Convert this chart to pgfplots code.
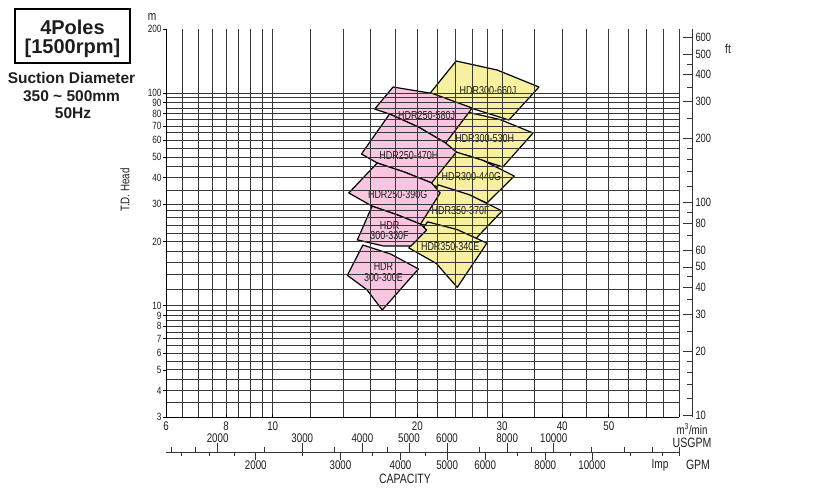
\documentclass[border=0pt]{standalone}
\usepackage{fontspec}
\setmainfont{Liberation Sans}
\newfontfamily\din[FakeStretch=0.78]{Liberation Sans}
\usepackage{pgfplots}
\pgfplotsset{compat=1.18}
\definecolor{pinkfill}{RGB}{248,198,224}
\definecolor{yellowfill}{RGB}{246,240,160}
\definecolor{gridc}{RGB}{55,55,55}
\definecolor{txt}{RGB}{30,30,30}
\newcommand{\dfs}[1]{\din\fontsize{#1bp}{#1bp}\selectfont}
\begin{document}
\begin{tikzpicture}
\path[use as bounding box] (0,0) rectangle (820bp,500bp);
% ---------- main chart ----------
\begin{axis}[
  at={(166bp,83bp)}, anchor=south west,
  width=513bp, height=388bp, scale only axis,
  xmode=log, ymode=log,
  xmin=6, xmax=70, ymin=3, ymax=200,
  axis x line*=bottom, axis y line*=left,
  axis line style={black, line width=0.8bp},
  axis on top,
  /pgf/number format/assume math mode=true,
  xtick={6,8,10,20,30,40,50},
  xticklabels={6,8,10,20,30,40,50},
  minor xtick={6.5,7,7.5,8.5,9,9.5,12,14,16,18,22,24,26,28,35,45,55,60,65},
  extra x ticks={70}, extra x tick labels={},
  extra x tick style={grid=major},
  ytick={3,4,5,6,7,8,9,10,20,30,40,50,60,70,80,90,100},
  yticklabels={3,4,5,6,7,8,9,10,20,30,40,50,60,70,80,90,100},
  minor ytick={3.5,4.5,5.5,6.5,7.5,8.5,9.5,12,14,16,18,22,24,26,28,35,45,55,65,75,85,95},
  extra y ticks={200}, extra y tick labels={200},
  extra y tick style={grid=none},
  grid=both,
  major grid style={gridc, line width=0.7bp},
  minor grid style={gridc, line width=0.7bp},
  tick align=inside,
  major tick length=3bp, minor tick length=0bp,
  ytick style={xshift=-3bp},
  tick style={black, line width=0.6bp},
  xticklabel style={font=\dfs{12.5}, text=txt, yshift=-1bp},
  yticklabel style={font=\dfs{10.5}, text=txt, xshift=-1bp, inner ysep=0pt},
]
% ----- yellow regions -----
\addplot[fill=yellowfill, draw=black, line width=1.2bp, line join=round]
  coordinates {(24.07,141.4) (29.3,128.3) (35.8,106.7) (31.0,74.7) (25.4,86.0) (20.7,92.7)} --cycle;
\addplot[fill=yellowfill, draw=black, line width=1.2bp, line join=round]
  coordinates {(25.36,81.4) (29.7,75.1) (34.8,64.9) (30.1,44.9) (25.4,50.9) (21.4,54.0)} --cycle;
\addplot[fill=yellowfill, draw=black, line width=1.2bp, line join=round]
  coordinates {(23.7,53.4) (27.4,48.2) (31.8,40.7) (27.9,30.4) (24.1,34.8) (20.8,37.4)} --cycle;
\addplot[fill=yellowfill, draw=black, line width=1.2bp, line join=round]
  coordinates {(22.1,37.0) (25.7,33.2) (30.0,27.9) (26.3,20.4) (23.0,22.9) (20.2,24.2)} --cycle;
\addplot[fill=yellowfill, draw=black, line width=1.2bp, line join=round]
  coordinates {(21.0,24.8) (24.2,22.8) (27.9,19.7) (24.2,12.2) (21.9,15.8) (19.2,18.7)} --cycle;
% ----- pink regions -----
\addplot[fill=pinkfill, draw=black, line width=1.2bp, line join=round]
  coordinates {(17.8,106.7) (21.5,99.5) (26.0,85.0) (22.9,58.2) (20.1,69.2) (17.5,79.7) (16.3,84.1)} --cycle;
\addplot[fill=pinkfill, draw=black, line width=1.2bp, line join=round]
  coordinates {(17.5,79.7) (20.1,69.2) (22.9,58.2) (24.1,52.8) (21.4,37.8) (18.8,42.5) (16.5,46.9) (15.3,51.7)} --cycle;
\addplot[fill=pinkfill, draw=black, line width=1.2bp, line join=round]
  coordinates {(16.5,46.9) (18.8,42.5) (21.4,37.8) (22.3,33.9) (20.3,24.2) (18.2,26.7) (16.1,29.4) (14.4,33.9)} --cycle;
\addplot[fill=pinkfill, draw=black, line width=1.2bp, line join=round]
  coordinates {(16.1,29.4) (18.2,26.7) (20.3,24.2) (20.9,22.7) (19.4,19.1) (17.0,19.1) (15.0,20.4)} --cycle;
\addplot[fill=pinkfill, draw=black, line width=1.2bp, line join=round]
  coordinates {(15.4,19.3) (17.6,17.5) (20.1,14.9) (16.9,9.55) (15.7,11.9) (14.3,13.9)} --cycle;
% ----- labels -----
\node[font=\dfs{11.5}, text=txt] at (axis cs:28.05,102.2) {HDR300-660J};
\node[font=\dfs{11.5}, text=txt] at (axis cs:20.9,78.8) {HDR250-580J};
\node[font=\dfs{11.5}, text=txt] at (axis cs:27.6,60.8) {HDR300-530H};
\node[font=\dfs{11.5}, text=txt] at (axis cs:19.2,50.6) {HDR250-470H};
\node[font=\dfs{11.5}, text=txt] at (axis cs:25.9,40.3) {HDR300-440G};
\node[font=\dfs{11.5}, text=txt] at (axis cs:18.2,33.2) {HDR250-390G};
\node[font=\dfs{11.5}, text=txt] at (axis cs:24.6,27.9) {HDR350-370F};
\node[font=\dfs{11.5}, text=txt] at (axis cs:23.4,18.9) {HDR350-340E};
\node[font=\dfs{11.5}, text=txt, align=center] at (axis cs:17.5,22.5) {HDR\\[-1bp]300-330F};
\node[font=\dfs{11.5}, text=txt, align=center] at (axis cs:17.0,14.4) {HDR\\[-1bp]300-300E};
\end{axis}
% ---------- ft axis ----------
\begin{axis}[
  at={(166bp,83bp)}, anchor=south west,
  width=526bp, height=388bp, scale only axis,
  ymode=log, ymin=9.8425, ymax=656.17, xmin=0, xmax=1,
  axis x line=none, axis y line*=right,
  axis line style={black!80, line width=0.7bp},
  /pgf/number format/assume math mode=true,
  ytick={10,20,30,40,50,60,80,100,200,300,400,500,600},
  yticklabels={10,20,30,40,50,60,80,100,200,300,400,500,600},
  minor ytick={12,14,16,18,25,35,45,70,90,120,140,160,180,250,350,450},
  tick align=inside,
  major tick length=9bp, minor tick length=5bp,
  tick style={black!80, line width=0.6bp},
  yticklabel style={font=\dfs{12}, text=txt},
]
\addplot[draw=none] coordinates {(0,20) (1,20)};
\end{axis}
% ---------- USGPM scale (ticks up) ----------
\begin{axis}[
  at={(166bp,47bp)}, anchor=south west,
  width=513bp, height=1bp, scale only axis,
  xmode=log, xmin=1562, xmax=18228, ymin=0, ymax=1,
  axis y line=none, axis x line*=top,
  axis line style={black!80, line width=0.7bp},
  /pgf/number format/assume math mode=true,
  xtick={2000,3000,4000,5000,6000,8000,10000},
  xticklabels={2000,3000,4000,5000,6000,8000,10000},
  minor xtick={1600,1800,2500,3500,4500,7000,9000,12000,14000,16000,18228},
  tick align=outside,
  major tick length=9bp, minor tick length=5bp,
  tick style={black!80, line width=0.6bp},
  xticklabel style={font=\dfs{12.5}, text=txt, yshift=-3.5bp},
]
\addplot[draw=none] coordinates {(2000,0.5) (3000,0.5)};
\end{axis}
% ---------- Imp GPM scale (ticks down) ----------
\begin{axis}[
  at={(166bp,48bp)}, anchor=south west,
  width=513bp, height=1bp, scale only axis,
  xmode=log, xmin=1301, xmax=15178, ymin=0, ymax=1,
  axis y line=none, axis x line*=bottom,
  axis line style={black!80, line width=0.7bp},
  /pgf/number format/assume math mode=true,
  xtick={2000,3000,4000,5000,6000,8000,10000},
  xticklabels={2000,3000,4000,5000,6000,8000,10000},
  minor xtick={1400,1600,1800,2500,3500,4500,7000,9000,12000,14000,15178},
  tick align=outside,
  major tick length=8bp, minor tick length=4bp,
  tick style={black!80, line width=0.6bp},
  xticklabel style={font=\dfs{12.5}, text=txt, yshift=3bp},
]
\addplot[draw=none] coordinates {(2000,0.5) (3000,0.5)};
\end{axis}
% ---------- texts ----------
\draw[black, line width=1.4bp] (15bp,437bp) rectangle (130bp,491bp);
\node[font=\bfseries\fontsize{20bp}{20bp}\selectfont, text=txt] at (72.5bp,473bp) {4Poles};
\node[font=\bfseries\fontsize{20bp}{20bp}\selectfont, text=txt] at (72.5bp,452bp) {[1500rpm]};
\node[font=\bfseries\fontsize{15.5bp}{15.5bp}\selectfont, text=txt] at (71.5bp,422bp) {Suction Diameter};
\node[font=\bfseries\fontsize{15.5bp}{15.5bp}\selectfont, text=txt] at (71.5bp,404bp) {350 \textasciitilde{} 500mm};
\node[font=\bfseries\fontsize{15.5bp}{15.5bp}\selectfont, text=txt] at (73bp,387bp) {50Hz};
\node[font=\dfs{13}, text=txt] at (152bp,483bp) {m};
\node[font=\dfs{13}, text=txt] at (728bp,451bp) {ft};
\node[font=\dfs{12.5}, text=txt, rotate=90] at (125bp,310bp) {T.D. Head};
\node[font=\dfs{12.5}, text=txt, inner sep=1bp] at (692bp,71bp) {m\textsuperscript{3}/min};
\node[font=\dfs{13.5}, text=txt] at (692bp,57bp) {USGPM};
\node[font=\dfs{13}, text=txt] at (660bp,35bp) {Imp};
\node[font=\dfs{13.5}, text=txt] at (698bp,35bp) {GPM};
\node[font=\dfs{13.5}, text=txt] at (405bp,21bp) {CAPACITY};
\end{tikzpicture}
\end{document}
